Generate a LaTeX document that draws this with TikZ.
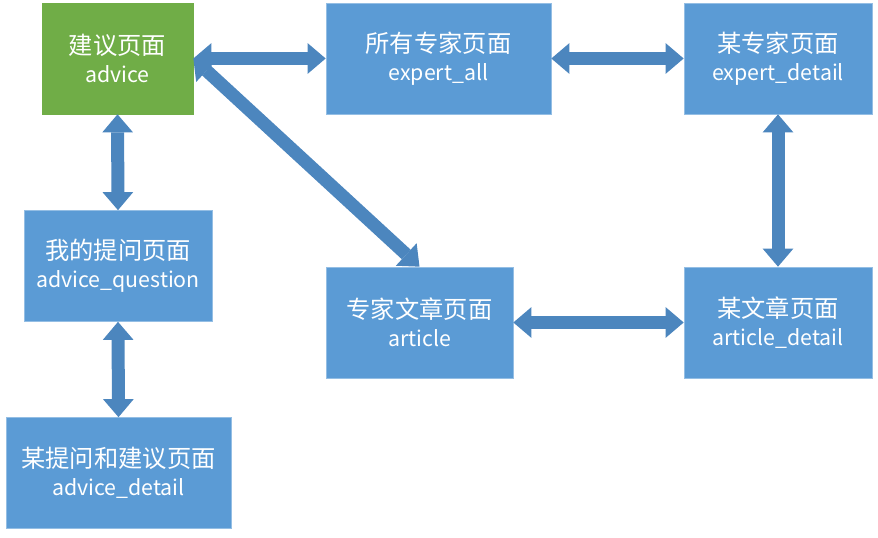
\documentclass[tikz,border=0pt]{standalone}
\usepackage{fontspec}
\setmainfont{Noto Sans CJK SC}
\usetikzlibrary{arrows.meta}
\definecolor{pageblue}{RGB}{91,155,213}
\definecolor{pagegreen}{RGB}{112,173,71}
\definecolor{linkblue}{RGB}{76,134,190}
\newcommand{\pagename}[2]{{\fontsize{18.2}{21}\selectfont #1}\\{\fontsize{16}{21}\selectfont #2}}
\begin{document}
\begin{tikzpicture}[x=0.75pt, y=-0.75pt,
	page/.style={draw=pageblue!65!white, line width=0.5pt, fill=pageblue, text=white, align=center,
		inner sep=0pt, minimum height=83.25pt, font=\fontsize{16}{21}\selectfont},
	link/.style={draw=linkblue, line width=9.75pt, {Triangle[line width=0pt, length=13.5pt, width=23pt]}-{Triangle[line width=0pt, length=13.5pt, width=23pt]}}]
	\useasboundingbox (0,0) rectangle (878,538);

	% pages
	\node[page, fill=pagegreen, draw=pagegreen, minimum width=113.25pt] (advice) at (117.5,58.5) {\pagename{建议页面}{advice}};
	\node[page, minimum width=168.75pt] (expertall) at (438.5,58.5) {\pagename{所有专家页面}{expert\_all}};
	\node[page, minimum width=141pt] (expertdetail) at (778,58.5) {\pagename{某专家页面}{expert\_detail}};
	\node[page, minimum width=141pt] (question) at (118,266) {\pagename{我的提问页面}{advice\_question}};
	\node[page, minimum width=140.25pt] (article) at (419.5,322.5) {\pagename{专家文章页面}{article}};
	\node[page, minimum width=141pt] (articledetail) at (778,322.5) {\pagename{某文章页面}{article\_detail}};
	\node[page, minimum width=168.75pt] (advicedetail) at (118.5,473) {\pagename{某提问和建议页面}{advice\_detail}};

	% links
	\draw[link] (advice.east) -- (expertall.west);
	\draw[link] (expertall.east) -- (expertdetail.west);
	\draw[link] (advice.east) -- (article.north);
	\draw[link] (expertdetail.south) -- (articledetail.north);
	\draw[link] (article.east) -- (articledetail.west);
	\draw[link] (advice.south) -- (question.north);
	\draw[link] (question.south) -- (advicedetail.north);
\end{tikzpicture}
\end{document}
